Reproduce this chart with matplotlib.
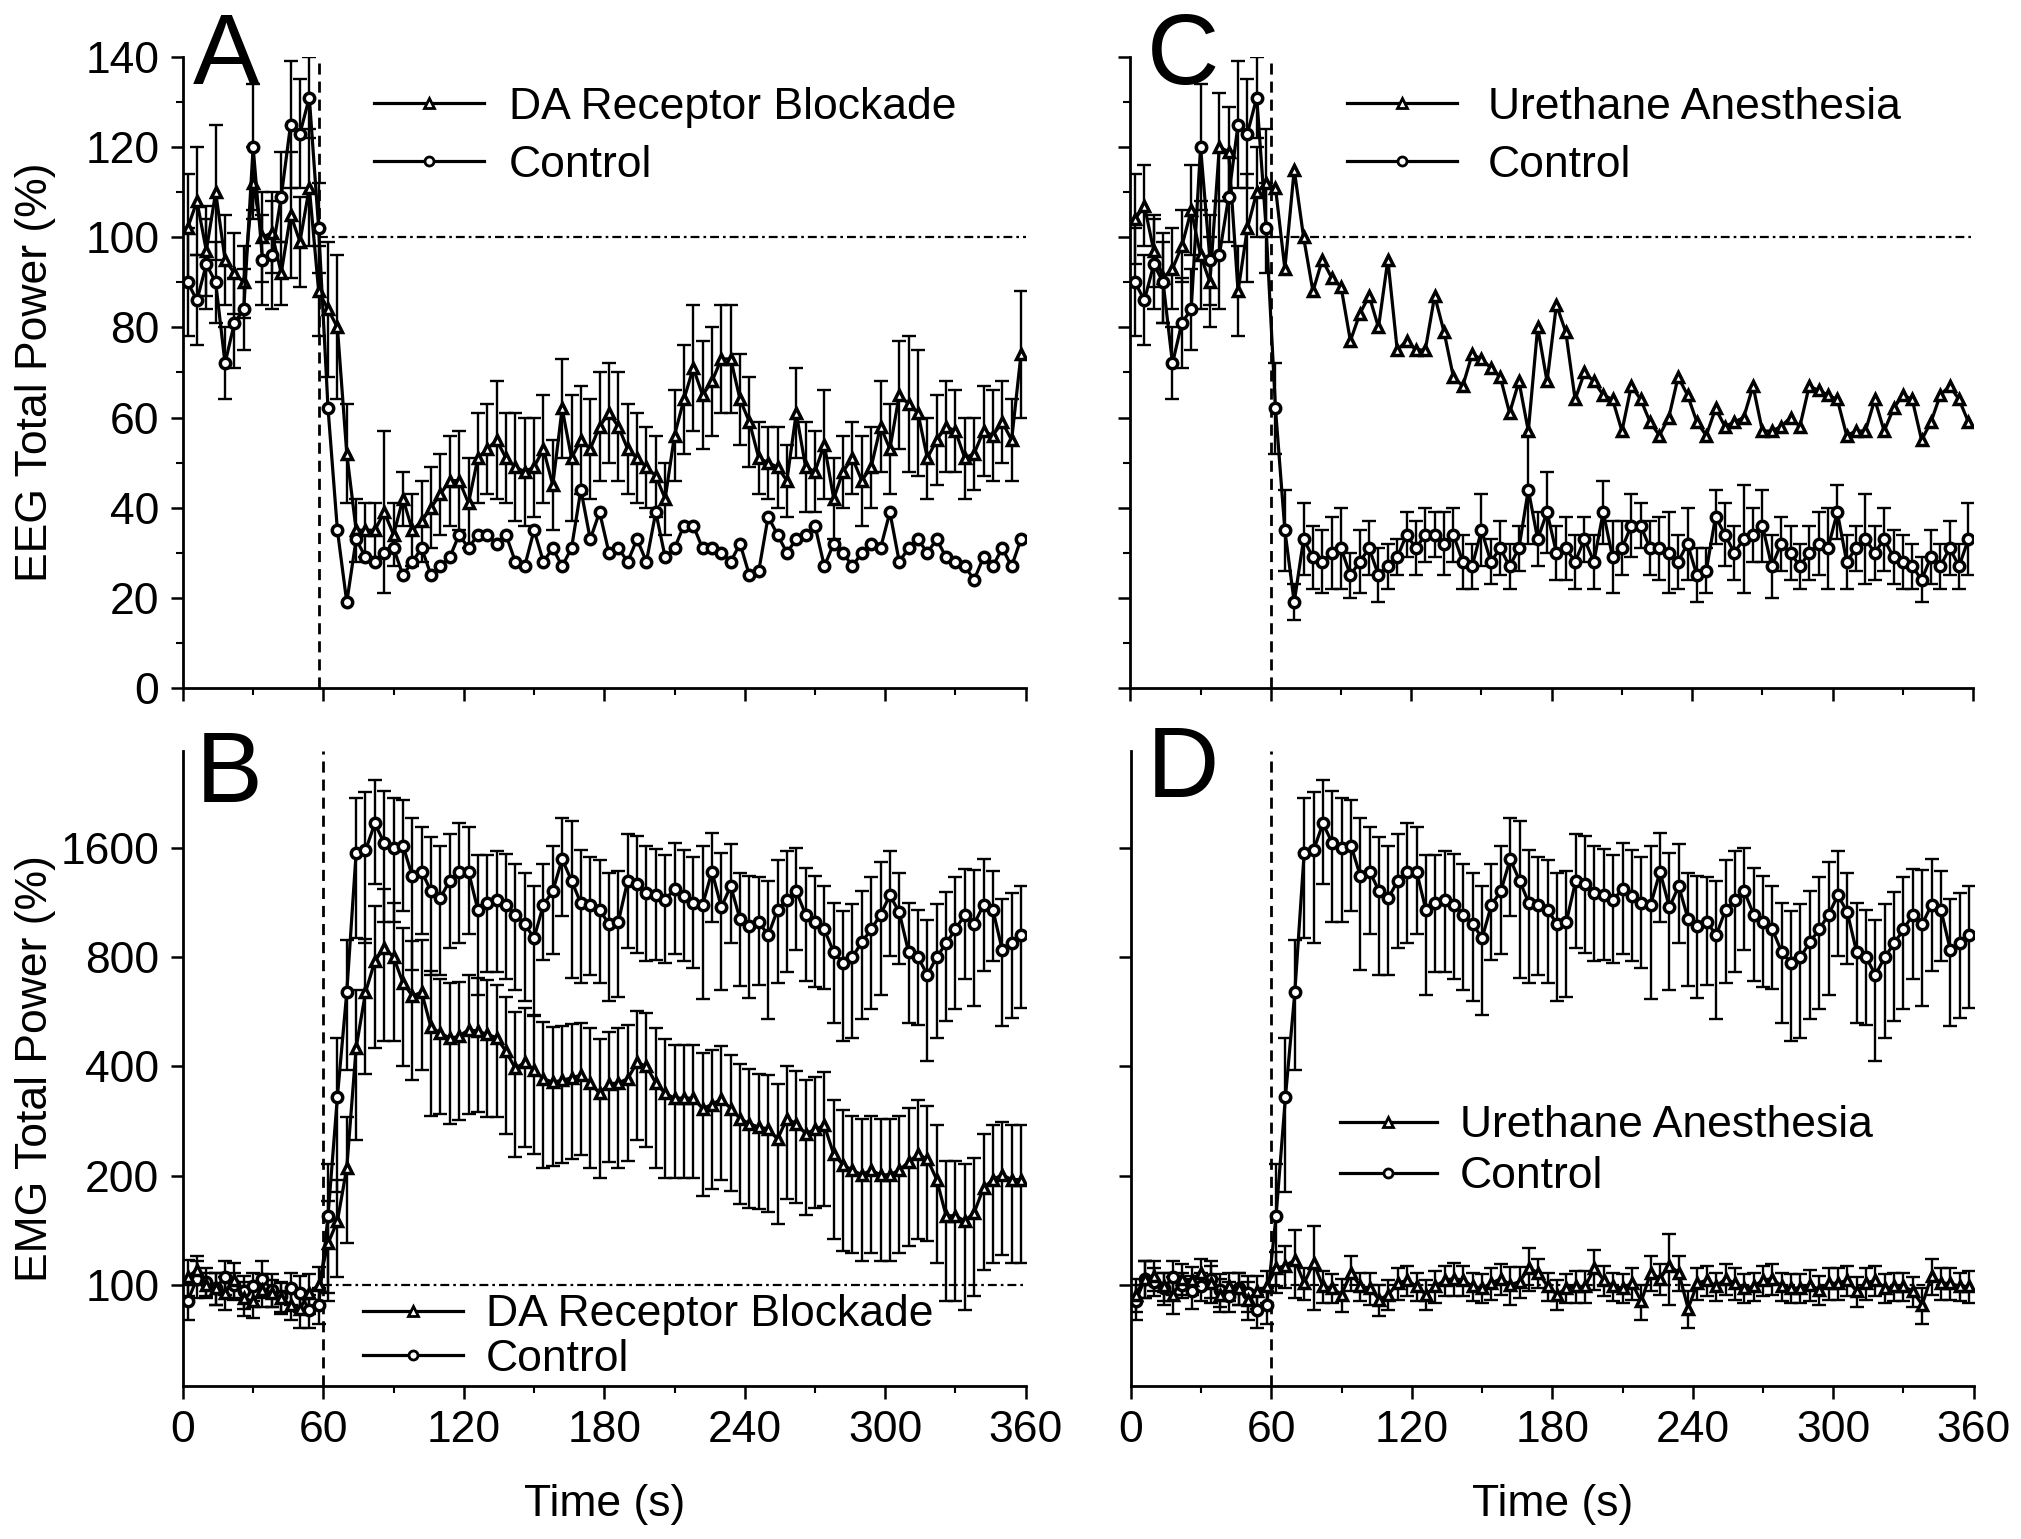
import numpy as np
import matplotlib
matplotlib.use("Agg")
import matplotlib.pyplot as plt
from matplotlib.lines import Line2D
from matplotlib.ticker import MultipleLocator, NullLocator

plt.rcParams['font.family'] = ['Liberation Sans', 'DejaVu Sans']

# sample times (s), one point every 4 s
time_s = np.arange(2, 360, 4)

# EEG total power (%) -- control is shared by panels A and C
eeg_ctrl = np.array([
    90, 86, 94, 90, 72, 81, 84, 120, 95, 96, 109, 125, 123, 131, 102,
    62, 35, 19, 33, 29, 28, 30, 31, 25, 28, 31, 25, 27, 29, 34,
    31, 34, 34, 32, 34, 28, 27, 35, 28, 31, 27, 31, 44, 33, 39,
    30, 31, 28, 33, 28, 39, 29, 31, 36, 36, 31, 31, 30, 28, 32,
    25, 26, 38, 34, 30, 33, 34, 36, 27, 32, 30, 27, 30, 32, 31,
    39, 28, 31, 33, 30, 33, 29, 28, 27, 24, 29, 27, 31, 27, 33])
eeg_ctrl_err = np.array([
    12, 10, 10, 9, 8, 10, 9, 14, 10, 12, 10, 14, 12, 9, 10,
    10, 9, 4, 8, 7, 7, 8, 9, 5, 7, 6, 6, 5, 4, 5,
    6, 6, 5, 7, 6, 6, 5, 8, 5, 6, 5, 5, 12, 6, 9,
    6, 7, 6, 5, 6, 7, 8, 6, 7, 5, 6, 7, 9, 6, 8,
    6, 5, 6, 7, 6, 12, 6, 8, 7, 6, 6, 5, 6, 7, 9,
    6, 6, 5, 10, 6, 7, 6, 6, 5, 5, 6, 5, 6, 5, 8])

eeg_da = np.array([
    102, 108, 97, 110, 95, 92, 90, 112, 100, 101, 92, 105, 99, 111, 88,
    84, 80, 52, 35, 35, 35, 39, 34, 42, 35, 37, 40, 43, 46, 46,
    41, 51, 53, 55, 51, 49, 48, 49, 53, 45, 62, 51, 55, 53, 58,
    61, 58, 53, 51, 49, 47, 42, 56, 64, 71, 65, 68, 73, 73, 64,
    59, 51, 50, 49, 46, 61, 49, 48, 54, 42, 48, 51, 46, 49, 58,
    53, 65, 63, 61, 51, 55, 58, 57, 51, 52, 57, 56, 59, 55, 74])
eeg_da_err = np.array([
    12, 12, 10, 15, 10, 9, 8, 8, 10, 9, 7, 14, 10, 13, 10,
    15, 16, 11, 7, 6, 6, 18, 7, 6, 8, 9, 9, 9, 10, 11,
    10, 10, 10, 13, 10, 12, 12, 11, 12, 10, 11, 14, 12, 11, 12,
    11, 12, 10, 10, 9, 9, 8, 10, 12, 14, 12, 12, 12, 12, 10,
    10, 8, 8, 9, 8, 10, 10, 9, 12, 9, 8, 8, 10, 9, 10,
    10, 12, 15, 14, 9, 10, 10, 9, 9, 8, 10, 10, 9, 9, 14])

eeg_ure = np.array([
    104, 107, 97, 91, 93, 98, 106, 96, 90, 120, 119, 88, 102, 110, 112,
    111, 93, 115, 100, 88, 95, 91, 89, 77, 83, 87, 80, 95, 75, 77,
    75, 75, 87, 79, 69, 67, 74, 73, 71, 69, 61, 68, 57, 80, 68,
    85, 79, 64, 70, 68, 65, 64, 57, 67, 64, 59, 56, 60, 69, 65,
    59, 56, 62, 58, 59, 60, 67, 57, 57, 58, 60, 58, 67, 66, 65,
    64, 56, 57, 57, 64, 57, 62, 65, 64, 55, 59, 65, 67, 64, 59])
eeg_ure_err = np.array([
    10, 9, 8, 10, 9, 8, 10, 12, 10, 12, 10, 10, 12, 10, 12,
    0, 0, 0, 0, 0, 0, 0, 0, 0, 0, 0, 0, 0, 0, 0,
    0, 0, 0, 0, 0, 0, 0, 0, 0, 0, 0, 0, 0, 0, 0,
    0, 0, 0, 0, 0, 0, 0, 0, 0, 0, 0, 0, 0, 0, 0,
    0, 0, 0, 0, 0, 0, 0, 0, 0, 0, 0, 0, 0, 0, 0,
    0, 0, 0, 0, 0, 0, 0, 0, 0, 0, 0, 0, 0, 0, 0])

# EMG total power (%) -- control is shared by panels B and D
emg_ctrl = np.array([
    90, 104, 102, 98, 105, 100, 96, 99, 104, 97, 93, 98, 95, 85, 88,
    155, 330, 640, 1552, 1576, 1870, 1650, 1600, 1624, 1339, 1377, 1216, 1166, 1300, 1377,
    1377, 1080, 1127, 1150, 1115, 1048, 987, 903, 1115, 1216, 1491, 1300, 1127, 1115, 1080,
    987, 1002, 1299, 1271, 1200, 1185, 1150, 1235, 1180, 1127, 1115, 1377, 1098, 1256, 1018,
    976, 1002, 919, 1080, 1150, 1216, 1048, 1002, 954, 826, 771, 800, 880, 954, 1048,
    1185, 1064, 826, 800, 715, 800, 873, 954, 1048, 987, 1115, 1080, 838, 873, 919])
emg_ctrl_err = np.array([
    10, 12, 9, 10, 11, 8, 10, 9, 12, 10, 9, 10, 11, 9, 10,
    60, 150, 250, 650, 700, 600, 650, 600, 550, 600, 450, 500, 450, 450, 500,
    450, 450, 400, 420, 420, 400, 380, 350, 330, 400, 450, 600, 450, 400, 400,
    380, 380, 450, 450, 420, 400, 380, 420, 400, 380, 500, 380, 450, 380, 350,
    360, 330, 380, 400, 420, 380, 360, 340, 300, 300, 300, 320, 340, 380, 420,
    380, 300, 300, 280, 300, 320, 340, 380, 350, 400, 380, 300, 320, 330, 340])

emg_da = np.array([
    105, 110, 100, 98, 95, 103, 92, 90, 97, 95, 92, 88, 86, 95, 100,
    130, 150, 210, 450, 640, 780, 850, 800, 680, 626, 640, 512, 495, 478, 484,
    505, 500, 490, 480, 440, 395, 410, 390, 370, 362, 366, 372, 378, 360, 337,
    358, 360, 370, 410, 400, 360, 337, 327, 327, 327, 306, 314, 325, 306, 287,
    278, 272, 269, 252, 287, 278, 261, 268, 275, 229, 214, 207, 201, 207, 201,
    201, 207, 218, 229, 222, 195, 155, 155, 150, 158, 185, 195, 201, 195, 195])
emg_da_err = np.array([
    12, 10, 8, 10, 10, 12, 10, 9, 10, 8, 9, 8, 10, 12, 12,
    40, 45, 80, 200, 260, 330, 380, 330, 280, 260, 250, 220, 200, 200, 200,
    210, 200, 200, 190, 180, 170, 170, 160, 160, 150, 150, 150, 150, 150, 140,
    140, 150, 150, 160, 160, 150, 140, 130, 130, 130, 130, 130, 130, 125, 120,
    115, 110, 110, 105, 115, 110, 105, 105, 110, 95, 90, 85, 85, 85, 85,
    85, 85, 90, 95, 90, 80, 65, 65, 65, 65, 75, 80, 80, 80, 80])

emg_ure = np.array([
    94, 104, 106, 99, 94, 104, 103, 108, 101, 94, 99, 98, 91, 96, 99,
    111, 113, 117, 101, 115, 99, 98, 94, 108, 99, 98, 91, 94, 101, 103,
    99, 94, 99, 103, 104, 103, 99, 98, 101, 104, 100, 102, 111, 108, 99,
    94, 98, 99, 99, 111, 103, 99, 98, 101, 90, 108, 104, 113, 108, 86,
    101, 103, 99, 104, 101, 98, 99, 103, 104, 99, 98, 98, 100, 97, 101,
    101, 103, 96, 101, 103, 98, 99, 99, 96, 88, 106, 101, 101, 99, 99])
emg_ure_err = np.array([
    10, 12, 10, 9, 11, 10, 9, 10, 12, 10, 9, 10, 11, 10, 10,
    12, 15, 25, 10, 30, 10, 9, 10, 12, 9, 10, 9, 9, 10, 10,
    9, 9, 10, 10, 11, 10, 9, 9, 10, 10, 12, 10, 15, 10, 9,
    9, 9, 10, 10, 14, 10, 9, 9, 10, 10, 12, 10, 25, 12, 10,
    10, 10, 9, 10, 10, 9, 9, 10, 10, 9, 9, 9, 10, 9, 10,
    10, 10, 9, 10, 10, 9, 9, 9, 9, 10, 12, 10, 10, 9, 10])

emg_ticks = [100, 200, 400, 800, 1600]
pre = slice(0, 15)
every = slice(None)

FS = 32
LW = 2.3


def style(ax, show_y=True, show_x=True):
    for s in ['top', 'right']:
        ax.spines[s].set_visible(False)
    for s in ['left', 'bottom']:
        ax.spines[s].set_linewidth(2.0)
    ax.tick_params(which='major', direction='out', length=9, width=1.8,
                   labelsize=FS, pad=8, labelleft=show_y, labelbottom=show_x)
    ax.tick_params(which='minor', direction='out', length=5, width=1.5)
    ax.set_xlim(0, 360)
    ax.xaxis.set_major_locator(MultipleLocator(60))
    ax.xaxis.set_minor_locator(MultipleLocator(30))


def draw(ax, y, err, marker, idx):
    ax.errorbar(time_s[idx], y[idx], yerr=err[idx], fmt='none', ecolor='black',
                elinewidth=1.7, capsize=5, capthick=1.7, zorder=2)
    ax.plot(time_s, y, color='black', lw=LW, marker=marker, ms=7.5,
            mfc='white', mec='black', mew=2.5, zorder=3)


def legend(ax, labels, x, y, hl, pad, spacing):
    handles = [Line2D([], [], color='black', lw=LW, marker=m, ms=6.5, mfc='white',
                      mec='black', mew=2.0) for m in ['^', 'o']]
    ax.legend(handles, labels, loc='upper left', bbox_to_anchor=(x, y),
              bbox_transform=fig.transFigure, frameon=False, fontsize=FS,
              handlelength=hl, handletextpad=pad, labelspacing=spacing,
              borderpad=0, borderaxespad=0)


fig = plt.figure(figsize=(20.21, 15.39), dpi=100)
axA = fig.add_axes([0.0905, 0.5530, 0.417, 0.4100])
axC = fig.add_axes([0.5593, 0.5530, 0.417, 0.4100])
axB = fig.add_axes([0.0905, 0.0994, 0.417, 0.4126])
axD = fig.add_axes([0.5596, 0.0994, 0.417, 0.4126])

# EEG panels
for ax, dash_x in [(axA, 58), (axC, 60)]:
    ax.set_ylim(0, 140)
    ax.yaxis.set_major_locator(MultipleLocator(20))
    ax.yaxis.set_minor_locator(MultipleLocator(10))
    ax.axvline(dash_x, color='black', lw=2.0, ls=(0, (4, 2.5)), zorder=1)
    ax.hlines(100, dash_x, 360, color='black', lw=1.6, ls=(0, (4, 1.8, 1.2, 1.8)), zorder=1)

draw(axA, eeg_da, eeg_da_err, '^', every)
draw(axA, eeg_ctrl, eeg_ctrl_err, 'o', pre)
draw(axC, eeg_ure, eeg_ure_err, '^', pre)
draw(axC, eeg_ctrl, eeg_ctrl_err, 'o', every)

# EMG panels
for ax in [axB, axD]:
    ax.axvline(60, color='black', lw=2.0, ls=(0, (4, 2.5)), zorder=1)
    ax.hlines(100, 60, 360, color='black', lw=1.6, ls=(0, (4, 1.8, 1.2, 1.8)), zorder=1)

draw(axB, emg_ctrl, emg_ctrl_err, 'o', every)
draw(axB, emg_da, emg_da_err, '^', every)
draw(axD, emg_ctrl, emg_ctrl_err, 'o', every)
draw(axD, emg_ure, emg_ure_err, '^', every)

for ax in [axB, axD]:
    ax.set_yscale('log')
    ax.set_ylim(52.6, 2960)
    ax.set_yticks(emg_ticks)
    ax.set_yticklabels([str(v) for v in emg_ticks])
    ax.yaxis.set_minor_locator(NullLocator())

style(axA, True, False)
style(axC, False, False)
style(axB, True, True)
style(axD, False, True)

axA.set_ylabel('EEG Total Power (%)', fontsize=FS)
axB.set_ylabel('EMG Total Power (%)', fontsize=FS)
for ax in [axA, axB]:
    ax.yaxis.set_label_coords(-0.15, 0.5)
for ax in [axB, axD]:
    ax.set_xlabel('Time (s)', fontsize=FS)
    ax.xaxis.set_label_coords(0.5, -0.155)

legend(axA, ['DA Receptor Blockade', 'Control'], 0.185, 0.9435, 2.47, 0.56, 0.38)
legend(axC, ['Urethane Anesthesia', 'Control'], 0.6665, 0.9435, 2.47, 0.7, 0.38)
legend(axB, ['DA Receptor Blockade', 'Control'], 0.1796, 0.159, 2.25, 0.52, 0.08)
legend(axD, ['Urethane Anesthesia', 'Control'], 0.663, 0.2818, 2.18, 0.52, 0.22)

for letter, x, y in [('A', 0.0955, 0.9454), ('B', 0.097, 0.479),
                     ('C', 0.5676, 0.9454), ('D', 0.5676, 0.482)]:
    fig.text(x, y, letter, fontsize=72, ha='left', va='baseline')

fig.savefig('out.png', dpi=100)
